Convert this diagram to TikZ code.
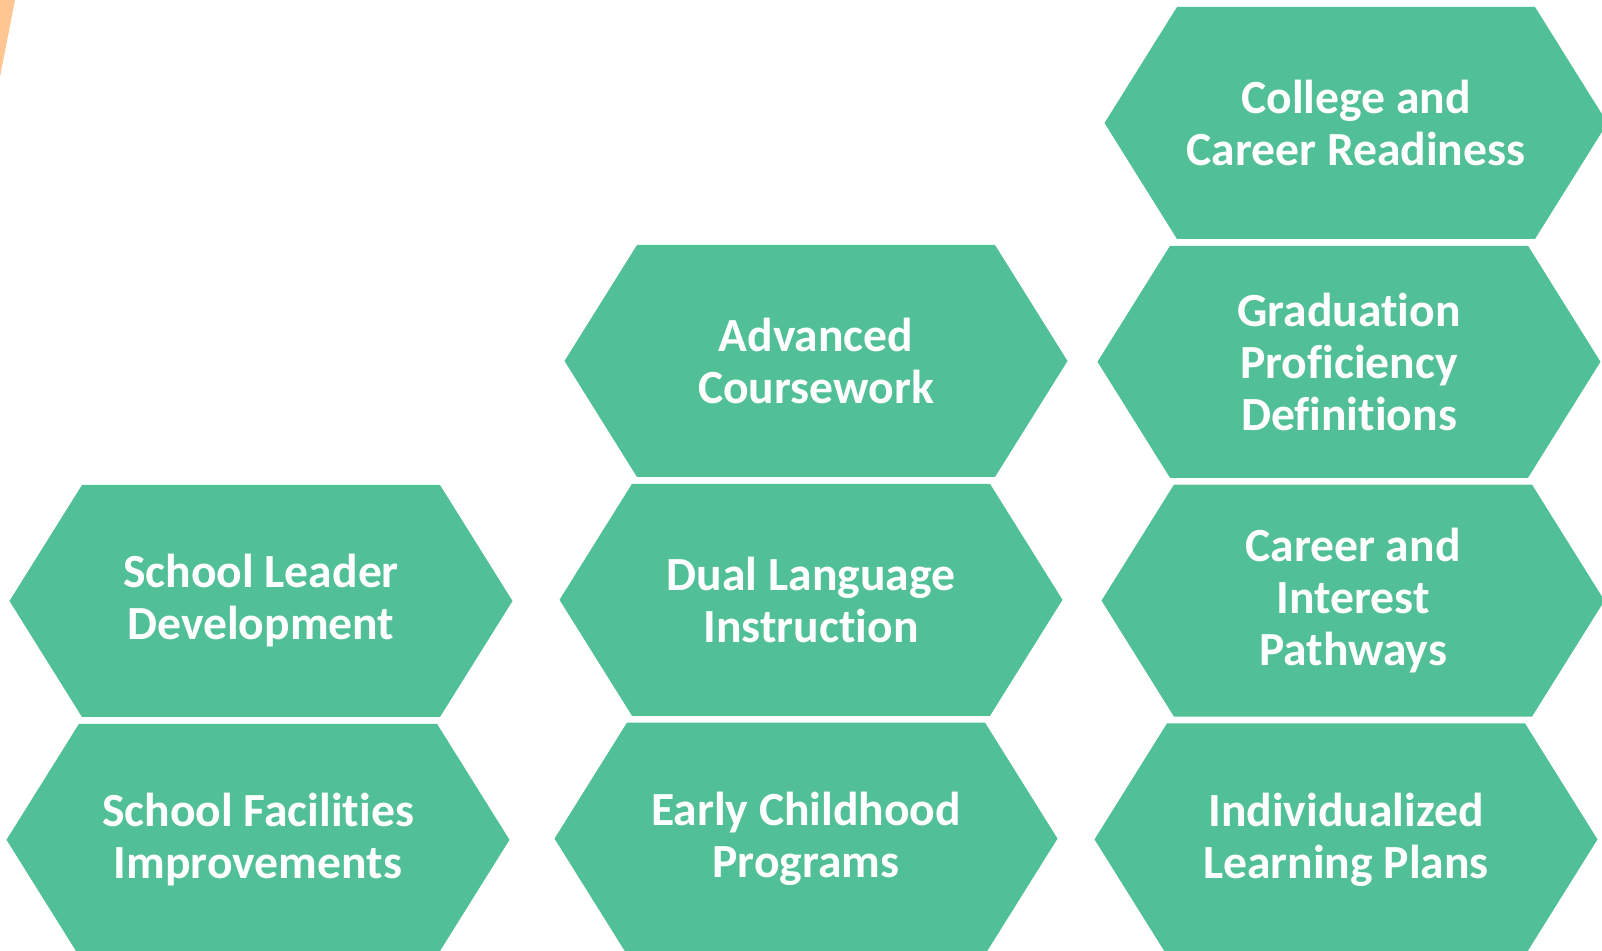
\documentclass[tikz,border=0pt]{standalone}
\usepackage{fontspec}
\setmainfont{Carlito}[Ligatures=NoCommon]
\usetikzlibrary{chains, positioning, shapes.symbols}
\definecolor{hexgreen}{RGB}{82,192,150}
\definecolor{peach}{RGB}{255,198,145}

\begin{document}
\begin{tikzpicture}[x=0.5pt, y=-0.5pt, node distance=3pt,
   hexa/.style = {signal, signal to=west and east, signal pointer angle=116,
      fill=hexgreen, text=white, align=center, inner sep=0pt,
      minimum height=116pt, minimum width=251.5pt,
      font=\fontsize{23.8}{26}\selectfont\bfseries}]
   \useasboundingbox (0,0) rectangle (1602,951);
   \fill[peach] (0,0) -- (15,0) -- (0,77) -- cycle;

   % left column
   \begin{scope}[start chain=lcol going below]
   \node[hexa, on chain=lcol] (leader) at (261,601) {School Leader\\Development};
   \node[hexa, on chain=lcol, xshift=-1.5pt] (facil) {School Facilities\\Improvements};
   \end{scope}
   %
   % middle column
   \begin{scope}[start chain=mcol going below]
   \node[hexa, on chain=mcol] (advanced) at (816,361) {Advanced\\Coursework};
   \node[hexa, on chain=mcol, xshift=-2.5pt] (dual) {Dual Language\\Instruction};
   \node[hexa, on chain=mcol, xshift=-2.5pt] (early) {Early Childhood\\Programs};
   \end{scope}
   %
   % right column
   \begin{scope}[start chain=rcol going below]
   \node[hexa, on chain=rcol] (college) at (1356,123) {College and\\Career Readiness};
   \node[hexa, on chain=rcol, xshift=-3.5pt] (grad) {Graduation\\Proficiency\\Definitions};
   \node[hexa, on chain=rcol, xshift=2pt] (career) {Career and\\Interest\\Pathways};
   \node[hexa, on chain=rcol, xshift=-3.5pt] (plans) {Individualized\\Learning Plans};
   \end{scope}
\end{tikzpicture}
\end{document}
